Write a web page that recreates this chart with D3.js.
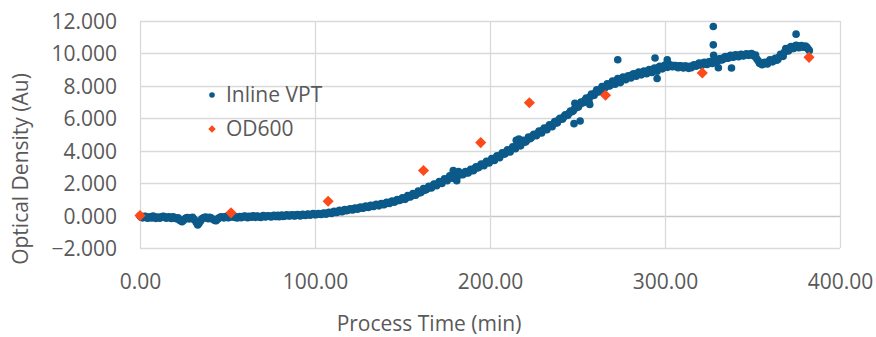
<!DOCTYPE html>
<html>
<head>
<meta charset="utf-8">
<script src="https://cdn.jsdelivr.net/npm/d3@7"></script>
<style>
  html, body { margin: 0; padding: 0; background: #fff; }
  svg text { font-family: "Open Sans", "Noto Sans", sans-serif; fill: #595959; }
</style>
</head>
<body>
<svg id="chart" width="876" height="337"></svg>
<script>
// Inline VPT readings: [process time (min), optical density]
const vptData = [
  [0,-0.02],[1.5,-0.14],[3,-0.05],[4.5,-0.16],[6,-0.08],[7.5,-0.03],[9,-0.17],[10.5,-0.09],[12,-0.12],[13.5,-0.04],
  [15,-0.16],[16.5,-0.07],[18,-0.18],[19.5,-0.1],[21,-0.2],[22.5,-0.28],[24,-0.38],[25.5,-0.22],[27,-0.12],[28.5,-0.19],
  [30,-0.1],[31.5,-0.3],[33,-0.58],[34.5,-0.35],[36,-0.15],[37.5,-0.09],[39,-0.2],[40.5,-0.13],[42,-0.24],[43.5,-0.32],
  [45,-0.16],[46.5,-0.07],[48,-0.14],[49.5,-0.05],[51,-0.12],[52.5,-0.02],[54,-0.11],[55.5,-0.15],[57,-0.06],[58.5,-0.1],
  [60,-0.03],[61.5,-0.13],[63,-0.07],[64.5,-0.01],[66,-0.11],[67.5,-0.05],[69,-0.12],[70.5,0],[72,-0.08],[73.5,-0.02],
  [75,-0.09],[76.5,0.02],[78,-0.05],[79.5,-0.07],[81,0.03],[82.5,-0.04],[84,0.05],[85.5,-0.03],[87,0.04],[88.5,-0.02],
  [90,0.07],[91.5,-0.02],[93,0.08],[94.5,0.01],[96,0.1],[97.5,0.03],[99,0.12],[100.5,0.05],[102,0.13],[103.5,0.07],
  [105,0.16],[106.5,0.09],[108,0.2],[109.5,0.13],[111,0.26],[112.5,0.19],[114,0.32],[115.5,0.24],[117,0.37],[118.5,0.31],
  [120,0.42],[121.5,0.34],[123,0.47],[124.5,0.4],[126,0.52],[127.5,0.45],[129,0.58],[130.5,0.5],[132,0.63],[133.5,0.56],
  [135,0.69],[136.5,0.6],[138,0.74],[139.5,0.67],[141,0.82],[142.5,0.75],[144,0.9],[145.5,0.83],[147,0.99],[148.5,0.94],
  [150,1.1],[151.5,1.0],[153,1.23],[154.5,1.15],[156,1.36],[157.5,1.26],[159,1.51],[160.5,1.42],[162,1.66],[163.5,1.6],
  [165,1.81],[166.5,1.7],[168,1.95],[169.5,1.84],[171,2.1],[172.5,1.98],[174,2.27],[175.5,2.15],[177,2.45],[178.5,2.3],
  [179,2.78],[181,2.15],[182,2.72],
  [180,2.5],[181.5,2.42],[183,2.6],[184.5,2.52],[186,2.72],[187.5,2.63],[189,2.86],[190.5,2.76],[192,3.01],[193.5,2.97],
  [195,3.18],[196.5,3.08],[198,3.35],[199.5,3.24],[201,3.52],[202.5,3.4],[204,3.68],[205.5,3.57],[207,3.87],[208.5,3.8],
  [210,4.05],[211.5,3.92],[213,4.24],[214.5,4.12],[216,4.45],[217.5,4.3],[219,4.65],[220.5,4.55],[222,4.85],[223.5,4.78],
  [215,4.65],[216.5,4.72],
  [225,5.01],[226.5,4.92],[228,5.22],[229.5,5.1],[231,5.4],[232.5,5.3],[234,5.6],[235.5,5.48],[237,5.8],[238.5,5.72],
  [240,6.0],[241.5,5.95],[243,6.22],[244.5,6.18],[246,6.45],[247.5,6.45],[249,6.75],[250.5,6.7],[252,7.0],[253.5,6.98],
  [248,5.67],[251.5,5.83],[248.5,6.92],
  [255,7.25],[256.5,7.05],[258,7.5],[259.5,7.42],[261,7.75],[262.5,7.66],[264,7.95],[265.5,7.86],[267,8.12],[268.5,8.0],
  [257,6.85],
  [270,8.3],[271.5,8.1],[273,8.45],[274.5,8.2],[276,8.55],[277.5,8.38],[279,8.62],[280.5,8.48],[282,8.75],[283.5,8.6],
  [273,9.61],
  [285,8.85],[286.5,8.68],[288,8.92],[289.5,8.75],[291,9.0],[292.5,8.82],[294,9.1],[295.5,8.9],[297,9.2],[298.5,9.05],
  [294.3,9.72],[295.5,8.45],
  [300,9.28],[301.5,9.14],[303,9.3],[304.5,9.18],[306,9.26],[307.5,9.12],[309,9.24],[310.5,9.1],[312,9.22],[313.5,9.08],
  [301.3,9.61],
  [315,9.12],[316.5,9.3],[318,9.22],[319.5,9.4],[321,9.27],[322.5,9.45],[324,9.32],[325.5,9.5],[327,9.38],[328.5,9.58],
  [327.6,11.66],[327.6,10.53],[327.8,9.88],
  [330,9.52],[331.5,9.68],[333,9.62],[334.5,9.8],[336,9.7],[337.5,9.88],[339,9.76],[340.5,9.92],[342,9.8],[343.5,9.95],
  [330.5,9.12],[338,9.1],
  [345,9.85],[346.5,9.98],[348,9.88],[349.5,10.0],[351,9.82],[352.5,9.65],[354,9.4],[355.5,9.3],[357,9.45],[358.5,9.35],
  [360,9.6],[361.5,9.48],[363,9.7],[364.5,9.62],[366,9.95],[367.5,9.82],[369,10.3],[370.5,10.15],[372,10.42],[373.5,10.3],
  [375,10.5],[376.5,10.35],[378,10.48],[379.5,10.38],[381,10.4],[382.5,10.18],
  [374.9,11.19]
];

// Inline VPT readings in between the ones above
const vptDataB = [
  [0.75,-0.1],[2.25,-0.06],[3.75,-0.13],[5.25,-0.09],[6.75,-0.15],[8.25,-0.07],[9.75,-0.12],[11.25,-0.16],[12.75,-0.06],[14.25,-0.1],
  [15.75,-0.1],[17.25,-0.14],[18.75,-0.08],[20.25,-0.17],[21.75,-0.14],[23.25,-0.32],[24.75,-0.3],[26.25,-0.15],[27.75,-0.2],[29.25,-0.13],
  [30.75,-0.22],[32.25,-0.45],[33.75,-0.48],[35.25,-0.22],[36.75,-0.12],[38.25,-0.16],[39.75,-0.1],[41.25,-0.2],[42.75,-0.3],[44.25,-0.22],
  [45.75,-0.1],[47.25,-0.12],[48.75,-0.08],[50.25,-0.13],[51.75,-0.06],[53.25,-0.09],[54.75,-0.07],[56.25,-0.1],[57.75,-0.13],[59.25,-0.05],
  [60.75,-0.08],[62.25,-0.04],[63.75,-0.1],[65.25,-0.06],[66.75,-0.03],[68.25,-0.09],[69.75,-0.04],[71.25,-0.07],[72.75,-0.03],[74.25,-0.06],
  [75.75,-0.03],[77.25,-0.06],[78.75,0.01],[80.25,-0.02],[81.75,-0.05],[83.25,0.02],[84.75,-0.01],[86.25,0.03],[87.75,-0.01],[89.25,0.04],
  [90.75,0.02],[92.25,0.05],[93.75,0.03],[95.25,0.07],[96.75,0.04],[98.25,0.08],[99.75,0.06],[101.25,0.1],[102.75,0.08],[104.25,0.12],
  [105.75,0.12],[107.25,0.16],[108.75,0.15],[110.25,0.21],[111.75,0.2],[113.25,0.26],[114.75,0.25],[116.25,0.31],[117.75,0.3],[119.25,0.36],
  [120.75,0.38],[122.25,0.43],[123.75,0.41],[125.25,0.48],[126.75,0.46],[128.25,0.53],[129.75,0.51],[131.25,0.58],[132.75,0.57],[134.25,0.63],
  [135.75,0.64],[137.25,0.7],[138.75,0.69],[140.25,0.76],[141.75,0.76],[143.25,0.83],[144.75,0.84],[146.25,0.91],[147.75,0.93],[149.25,1.0],
  [150.75,1.04],[152.25,1.12],[153.75,1.16],[155.25,1.25],[156.75,1.27],[158.25,1.37],[159.75,1.4],[161.25,1.52],[162.75,1.57],[164.25,1.67],
  [165.75,1.74],[167.25,1.83],[168.75,1.88],[170.25,1.98],[171.75,2.02],[173.25,2.13],[174.75,2.18],[176.25,2.3],[177.75,2.35],[179.25,2.45],
  [180.75,2.44],[182.25,2.52],[183.75,2.53],[185.25,2.63],[186.75,2.64],[188.25,2.75],[189.75,2.78],[191.25,2.9],[192.75,2.93],[194.25,3.07],
  [195.75,3.12],[197.25,3.22],[198.75,3.27],[200.25,3.39],[201.75,3.43],[203.25,3.56],[204.75,3.6],[206.25,3.73],[207.75,3.79],[209.25,3.93],
  [210.75,3.96],[212.25,4.1],[213.75,4.15],[215.25,4.28],[216.75,4.33],[218.25,4.48],[219.75,4.52],[221.25,4.68],[222.75,4.74],[224.25,4.9],
  [225.75,4.96],[227.25,5.08],[228.75,5.13],[230.25,5.27],[231.75,5.31],[233.25,5.46],[234.75,5.52],[236.25,5.66],[237.75,5.72],[239.25,5.9],
  [240.75,5.96],[242.25,6.1],[243.75,6.18],[245.25,6.32],[246.75,6.4],[248.25,6.58],[249.75,6.68],[251.25,6.85],[252.75,6.94],[254.25,7.12],
  [255.75,7.2],[257.25,7.34],[258.75,7.4],[260.25,7.58],[261.75,7.62],[263.25,7.8],[264.75,7.84],[266.25,7.99],[267.75,8.0],[269.25,8.15],
  [270.75,8.2],[272.25,8.32],[273.75,8.3],[275.25,8.45],[276.75,8.45],[278.25,8.55],[279.75,8.58],[281.25,8.68],[282.75,8.68],[284.25,8.78],
  [285.75,8.76],[287.25,8.84],[288.75,8.83],[290.25,8.92],[291.75,8.9],[293.25,9.02],[294.75,8.98],[296.25,9.13],[297.75,9.1],[299.25,9.22],
  [300.75,9.2],[302.25,9.25],[303.75,9.2],[305.25,9.26],[306.75,9.18],[308.25,9.24],[309.75,9.16],[311.25,9.22],[312.75,9.14],[314.25,9.2],
  [315.75,9.22],[317.25,9.24],[318.75,9.33],[320.25,9.3],[321.75,9.4],[323.25,9.35],[324.75,9.46],[326.25,9.4],[327.75,9.52],[329.25,9.48],
  [330.75,9.62],[332.25,9.6],[333.75,9.74],[335.25,9.72],[336.75,9.82],[338.25,9.8],[339.75,9.88],[341.25,9.84],[342.75,9.9],[344.25,9.86],
  [345.75,9.92],[347.25,9.9],[348.75,9.96],[350.25,9.92],[351.75,9.9],[353.25,9.55],[354.75,9.36],[356.25,9.42],[357.75,9.38],[359.25,9.5],
  [360.75,9.55],[362.25,9.6],[363.75,9.58],[365.25,9.78],[366.75,9.9],[368.25,10.08],[369.75,10.22],[371.25,10.35],[372.75,10.3],[374.25,10.45],
  [375.75,10.42],[377.25,10.46],[378.75,10.4],[380.25,10.46],[381.75,10.28]
];

// OD600 offline samples
const odTime = [0, 52, 107.5, 162, 194.7, 222.5, 266, 321.3, 382.3];
const odValue = [0.0, 0.17, 0.88, 2.78, 4.5, 6.96, 7.42, 8.8, 9.76];

const xTicks = [0, 100, 200, 300, 400];
const yTicks = [-2, 0, 2, 4, 6, 8, 10, 12];
const seriesNames = ['Inline VPT', 'OD600'];

const blue = '#0b5a8a';
const orange = '#fc4a1a';

const margin = {top: 21, right: 36, bottom: 89, left: 140};
const width = 876 - margin.left - margin.right;
const height = 337 - margin.top - margin.bottom;

const svg = d3.select('#chart');
const g = svg.append('g')
  .attr('transform', 'translate(' + margin.left + ',' + margin.top + ')');

const x = d3.scaleLinear().domain([0, 400]).range([0, width]);
const y = d3.scaleLinear().domain([-2, 12]).range([height, 0]);

// gridlines
g.append('g')
  .selectAll('line')
  .data(yTicks)
  .enter().append('line')
  .attr('x1', 0)
  .attr('x2', width)
  .attr('y1', (d) => Math.round(y(d)) + 0.5)
  .attr('y2', (d) => Math.round(y(d)) + 0.5)
  .attr('stroke', (d) => d === 0 ? '#c8c8c8' : '#d9d9d9')
  .attr('stroke-width', 1.3);

g.append('g')
  .selectAll('line')
  .data(xTicks)
  .enter().append('line')
  .attr('x1', (d) => Math.round(x(d)) + 0.5)
  .attr('x2', (d) => Math.round(x(d)) + 0.5)
  .attr('y1', 0)
  .attr('y2', height)
  .attr('stroke', '#d9d9d9')
  .attr('stroke-width', 1.3);

// axes (labels only)
const xAxis = g.append('g')
  .attr('transform', 'translate(0,' + height + ')')
  .call(d3.axisBottom(x).tickValues(xTicks).tickFormat(d3.format('.2f')).tickSize(0).tickPadding(26));

const yAxis = g.append('g')
  .call(d3.axisLeft(y).tickValues(yTicks).tickFormat(d3.format('.3f')).tickSize(0).tickPadding(23));

[xAxis, yAxis].forEach((a) => {
  a.select('.domain').remove();
  a.selectAll('text')
    .attr('fill', '#595959')
    .style('font-size', '21px')
    .style('font-family', '"Open Sans", sans-serif');
});
yAxis.selectAll('text').attr('dy', '0.36em');

// Inline VPT points
g.append('g')
  .selectAll('circle')
  .data(vptData.concat(vptDataB))
  .enter().append('circle')
  .attr('cx', (d) => x(d[0]))
  .attr('cy', (d) => y(d[1]))
  .attr('r', 3.8)
  .attr('fill', blue);

// OD600 diamonds
const diamond = d3.symbol().type(d3.symbolSquare).size(62);
g.append('g')
  .selectAll('path')
  .data(odTime)
  .enter().append('path')
  .attr('d', diamond)
  .attr('transform', (d, i) => 'translate(' + x(d) + ',' + y(odValue[i]) + ') rotate(45)')
  .attr('fill', orange);

// axis titles
svg.append('text')
  .attr('x', 429)
  .attr('y', 331)
  .attr('text-anchor', 'middle')
  .style('font-size', '21px')
  .text('Process Time (min)');

svg.append('text')
  .attr('transform', 'translate(28,169) rotate(-90)')
  .attr('text-anchor', 'middle')
  .style('font-size', '21px')
  .text('Optical Density (Au)');

// legend
const legend = svg.append('g');
legend.append('circle')
  .attr('cx', 212)
  .attr('cy', 95)
  .attr('r', 2.8)
  .attr('fill', blue);
legend.append('path')
  .attr('d', d3.symbol().type(d3.symbolSquare).size(28))
  .attr('transform', 'translate(212,129) rotate(45)')
  .attr('fill', orange);
legend.selectAll('text')
  .data(seriesNames)
  .enter().append('text')
  .attr('x', 226)
  .attr('y', (d, i) => i === 0 ? 102 : 136)
  .style('font-size', '21px')
  .text((d) => d);
</script>
</body>
</html>
